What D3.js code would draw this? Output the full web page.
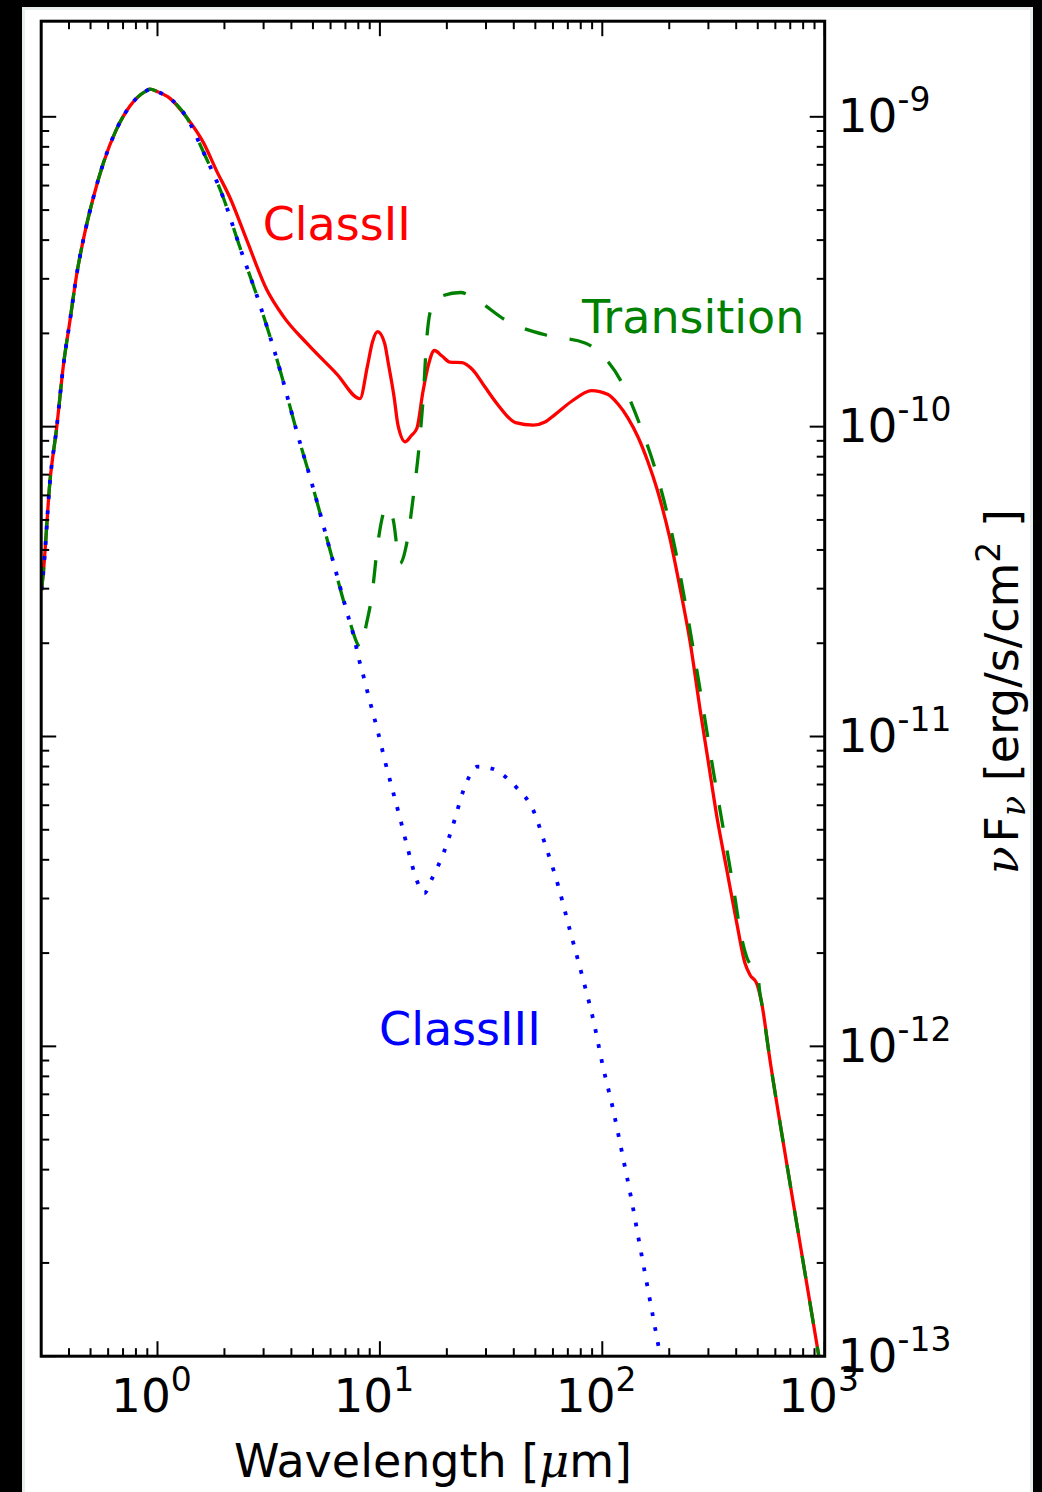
<!DOCTYPE html>
<html>
<head>
<meta charset="utf-8">
<script src="https://cdn.jsdelivr.net/npm/d3@7"></script>
<style>
  html, body { margin: 0; padding: 0; background: #000; }
  svg { display: block; }
</style>
</head>
<body>
<svg id="chart" width="1042" height="1492"></svg>
<script>
// Stellar photosphere (Class III): wavelength [um] and nu F_nu [erg/s/cm^2]
const lamStar = [0.301, 0.3066, 0.3286, 0.3522, 0.3771, 0.4043, 0.4332, 0.4638, 0.5144, 0.5706,
  0.6556, 0.7521, 0.894, 0.925, 0.992, 1.138, 1.353, 1.607, 1.977, 2.349,
  2.89, 3.555, 4.225, 5.02, 5.966, 7.09, 7.727, 7.997, 8.336, 9.027,
  9.775, 10.54, 11.42, 12.41, 13.42, 14.64, 15.84, 17.10, 19.48, 21.54,
  23.57, 24.98, 27.42, 32.02, 36.52, 40.93, 49.31, 54.7, 63.42, 71.58,
  81.04, 91.1, 100.4, 112.1, 123.5, 135.6, 147.7, 161.0, 175.7, 185.5];
const fluxStar = [2.97e-11, 3.375e-11, 6.68e-11, 9.94e-11, 1.567e-10, 2.206e-10, 3.10e-10, 4.006e-10, 5.48e-10, 7.08e-10,
  9.14e-10, 1.084e-9, 1.215e-9, 1.229e-9, 1.208e-9, 1.147e-9, 9.95e-10, 7.71e-10, 5.48e-10, 3.787e-10,
  2.47e-10, 1.523e-10, 9.67e-11, 6.31e-11, 4.0e-11, 2.54e-11, 2.03e-11, 1.81e-11, 1.619e-11, 1.294e-11,
  1.042e-11, 8.34e-12, 6.69e-12, 5.34e-12, 4.28e-12, 3.437e-12, 3.12e-12, 3.463e-12, 4.27e-12, 5.30e-12,
  6.60e-12, 7.32e-12, 7.99e-12, 7.87e-12, 7.43e-12, 6.87e-12, 5.71e-12, 4.60e-12, 3.29e-12, 2.363e-12,
  1.697e-12, 1.218e-12, 8.69e-13, 6.21e-13, 4.43e-13, 3.17e-13, 2.264e-13, 1.621e-13, 1.155e-13, 9.37e-14];

// Class II disc: departs from the photosphere beyond ~1.35 um
const lamClassII = [1.607, 1.846, 2.118, 2.518, 3.097, 3.68, 4.69, 6.39, 8.14, 8.78,
  9.26, 9.765, 10.50, 10.91, 11.58, 12.06, 13.01, 13.80, 14.67, 15.62,
  16.52, 17.60, 19.02, 20.66, 23.39, 26.22, 29.70, 33.96, 40.72, 49.06,
  55.25, 61.27, 73.09, 89.42, 106.1, 117.7, 130.5, 144.7, 160.5, 176.2,
  201.6, 223.6, 248.0, 274.9, 299.7, 326.9, 362.5, 402.2, 438.2, 461.6,
  494.6, 521.0, 567.5, 674.8, 830.0, 1000];
const fluxClassII = [8.27e-10, 6.68e-10, 5.48e-10, 4.006e-10, 2.77e-10, 2.27e-10, 1.859e-10, 1.481e-10, 1.232e-10, 1.562e-10,
  1.876e-10, 2.025e-10, 1.858e-10, 1.601e-10, 1.249e-10, 1.012e-10, 8.94e-11, 9.33e-11, 9.88e-11, 1.298e-10,
  1.581e-10, 1.761e-10, 1.690e-10, 1.616e-10, 1.610e-10, 1.523e-10, 1.342e-10, 1.175e-10, 1.031e-10, 1.012e-10,
  1.035e-10, 1.094e-10, 1.210e-10, 1.308e-10, 1.270e-10, 1.183e-10, 1.066e-10, 9.26e-11, 7.69e-11, 6.29e-11,
  4.34e-11, 3.015e-11, 2.025e-11, 1.230e-11, 8.27e-12, 5.55e-12, 3.727e-12, 2.503e-12, 1.853e-12, 1.699e-12,
  1.598e-12, 1.377e-12, 9.03e-13, 4.19e-13, 1.719e-13, 7.7e-14];

// Transition disc: photospheric up to ~7 um, then the inner-hole wall excess;
// beyond ~520 um it follows the Class II curve
const lamTransition = [8.24, 8.68, 9.19, 9.83, 10.73, 11.48, 12.31, 13.20, 14.13, 15.15,
  15.67, 16.23, 17.10, 18.64, 23.04, 27.20, 37.28, 57.88, 83.6, 98.7,
  122.0, 147.7, 181.7, 216.1, 235.4, 279.9, 315.6, 350.1, 388.2, 420.5,
  447.4, 471.1, 501.2, 509.0];
const fluxTransition = [1.93e-11, 2.29e-11, 2.83e-11, 4.30e-11, 5.51e-11, 5.00e-11, 3.62e-11, 4.20e-11, 5.94e-11, 9.28e-11,
  1.249e-10, 1.904e-10, 2.438e-10, 2.627e-10, 2.710e-10, 2.563e-10, 2.193e-10, 1.962e-10, 1.862e-10, 1.716e-10,
  1.393e-10, 1.012e-10, 6.46e-11, 3.80e-11, 2.729e-11, 1.315e-11, 7.74e-12, 5.03e-12, 3.265e-12, 2.288e-12,
  1.928e-12, 1.804e-12, 1.687e-12, 1.520e-12];

const xTickValues = [1, 10, 100, 1000];
const xTickExponents = ['0', '1', '2', '3'];
const yTickValues = [1e-13, 1e-12, 1e-11, 1e-10, 1e-9];
const yTickExponents = ['-13', '-12', '-11', '-10', '-9'];

// annotation anchors (left end of the text baseline), in data coordinates
const seriesLabels = [
  { text: 'ClassII', color: '#ff0000', lam: 2.97, flux: 4.0e-10 },
  { text: 'Transition', color: '#008000', lam: 81.0, flux: 2.0e-10 },
  { text: 'ClassIII', color: '#0000ff', lam: 9.91, flux: 1.01e-12 }
];

// ---- build series ----
const zip = (a, b) => a.map((v, i) => [v, b[i]]);
const star = zip(lamStar, fluxStar);
const classII = star.filter(d => d[0] <= 1.36).concat(zip(lamClassII, fluxClassII));
const transition = star.filter(d => d[0] <= 7.1)
  .concat(zip(lamTransition, fluxTransition))
  .concat(zip(lamClassII, fluxClassII).filter(d => d[0] >= 520));

// ---- layout ----
const svg = d3.select('#chart');
const FONT = 'DejaVu Sans, Verdana, sans-serif';
const MATH = 'DejaVu Serif, serif';

svg.append('rect')
  .attr('x', 23.5).attr('y', 8.5).attr('width', 1008).attr('height', 1490)
  .attr('fill', '#ffffff').attr('stroke', '#e8eeee').attr('stroke-width', 3);

const x = d3.scaleLog().domain([0.3, 1000]).range([41.2, 824.7]);
const y = d3.scaleLog().domain([1e-13, 2.035e-9]).range([1356.2, 21.2]);
const [x0, x1] = x.range();
const [y0, y1] = [y.range()[1], y.range()[0]];

svg.append('defs').append('clipPath').attr('id', 'plotClip')
  .append('rect').attr('x', x0).attr('y', y0).attr('width', x1 - x0).attr('height', y1 - y0);

const line = d3.line()
  .x(d => x(d[0]))
  .y(d => y(d[1]))
  .curve(d3.curveMonotoneX);

const plot = svg.append('g').attr('clip-path', 'url(#plotClip)');

plot.append('path').datum(classII)
  .attr('d', line).attr('fill', 'none')
  .attr('stroke', '#ff0000').attr('stroke-width', 3.3)
  .attr('stroke-linejoin', 'round');

plot.append('path').datum(transition)
  .attr('d', line).attr('fill', 'none')
  .attr('stroke', '#008000').attr('stroke-width', 3.3)
  .attr('stroke-dasharray', '23 23');

plot.append('path').datum(star)
  .attr('d', line).attr('fill', 'none')
  .attr('stroke', '#0000ff').attr('stroke-width', 3.8)
  .attr('stroke-dasharray', '3.8 11.4');

// ---- ticks (inward, all four sides) ----
const ticks = svg.append('g').attr('stroke', '#000').attr('stroke-width', 2);
const MAJ = 15, MIN = 8;

function xTick(v, len) {
  const px = x(v);
  ticks.append('line').attr('x1', px).attr('x2', px).attr('y1', y1).attr('y2', y1 - len);
  ticks.append('line').attr('x1', px).attr('x2', px).attr('y1', y0).attr('y2', y0 + len);
}
function yTick(v, len) {
  const py = y(v);
  ticks.append('line').attr('y1', py).attr('y2', py).attr('x1', x0).attr('x2', x0 + len);
  ticks.append('line').attr('y1', py).attr('y2', py).attr('x1', x1).attr('x2', x1 - len);
}

xTickValues.forEach(v => xTick(v, MAJ));
for (let k = -1; k <= 2; k++) {
  for (let m = 2; m <= 9; m++) {
    const v = m * Math.pow(10, k);
    const px = x(v);
    if (px > x0 + 3 && px < x1 - 3) xTick(v, MIN);
  }
}
yTickValues.forEach(v => yTick(v, MAJ));
for (let k = -13; k <= -9; k++) {
  for (let m = 2; m <= 9; m++) {
    const v = m * Math.pow(10, k);
    const py = y(v);
    if (py > y0 + 4 && py < y1 - 4) yTick(v, MIN);
  }
}

// axes frame
svg.append('rect')
  .attr('x', x0).attr('y', y0).attr('width', x1 - x0).attr('height', y1 - y0)
  .attr('fill', 'none').attr('stroke', '#000').attr('stroke-width', 3);

// ---- tick labels ----
const labels = svg.append('g').attr('font-family', FONT).attr('fill', '#000');

xTickValues.forEach((v, i) => {
  const t = labels.append('text')
    .attr('x', x(v) - 46.5).attr('y', y1 + 56)
    .attr('font-size', 47);
  t.append('tspan').text('10');
  t.append('tspan').attr('font-size', 33).attr('dy', -21).text(xTickExponents[i]);
});

yTickValues.forEach((v, i) => {
  const t = labels.append('text')
    .attr('x', x1 + 13).attr('y', y(v) + 15.5)
    .attr('font-size', 47);
  t.append('tspan').text('10');
  t.append('tspan').attr('font-size', 33).attr('dy', -21).text(yTickExponents[i]);
});

// ---- axis titles ----
const xl = svg.append('text')
  .attr('x', (x0 + x1) / 2).attr('y', 1476.5)
  .attr('text-anchor', 'middle')
  .attr('font-family', FONT).attr('font-size', 46).attr('fill', '#000');
xl.append('tspan').text('Wavelength [');
xl.append('tspan').attr('font-family', MATH).attr('font-style', 'italic').text('μ');
xl.append('tspan').text('m]');

const yl = svg.append('text')
  .attr('transform', `translate(1018,${(y0 + y1) / 2 + 3}) rotate(-90)`)
  .attr('text-anchor', 'middle')
  .attr('font-family', FONT).attr('font-size', 46).attr('fill', '#000');
yl.append('tspan').attr('font-family', MATH).attr('font-style', 'italic').text('ν');
yl.append('tspan').attr('font-size', 12).text(' ');
yl.append('tspan').text('F');
yl.append('tspan').attr('font-family', MATH).attr('font-style', 'italic')
  .attr('font-size', 33).attr('dy', 7).text('ν');
yl.append('tspan').attr('dy', -7).text(' [erg/s/cm');
yl.append('tspan').attr('font-size', 33).attr('dy', -18).text('2');
yl.append('tspan').attr('dy', 18).text(' ]');

// ---- series annotations ----
seriesLabels.forEach(s => {
  svg.append('text')
    .attr('x', x(s.lam)).attr('y', y(s.flux))
    .attr('font-family', FONT).attr('font-size', 46)
    .attr('fill', s.color)
    .text(s.text);
});
</script>
</body>
</html>
